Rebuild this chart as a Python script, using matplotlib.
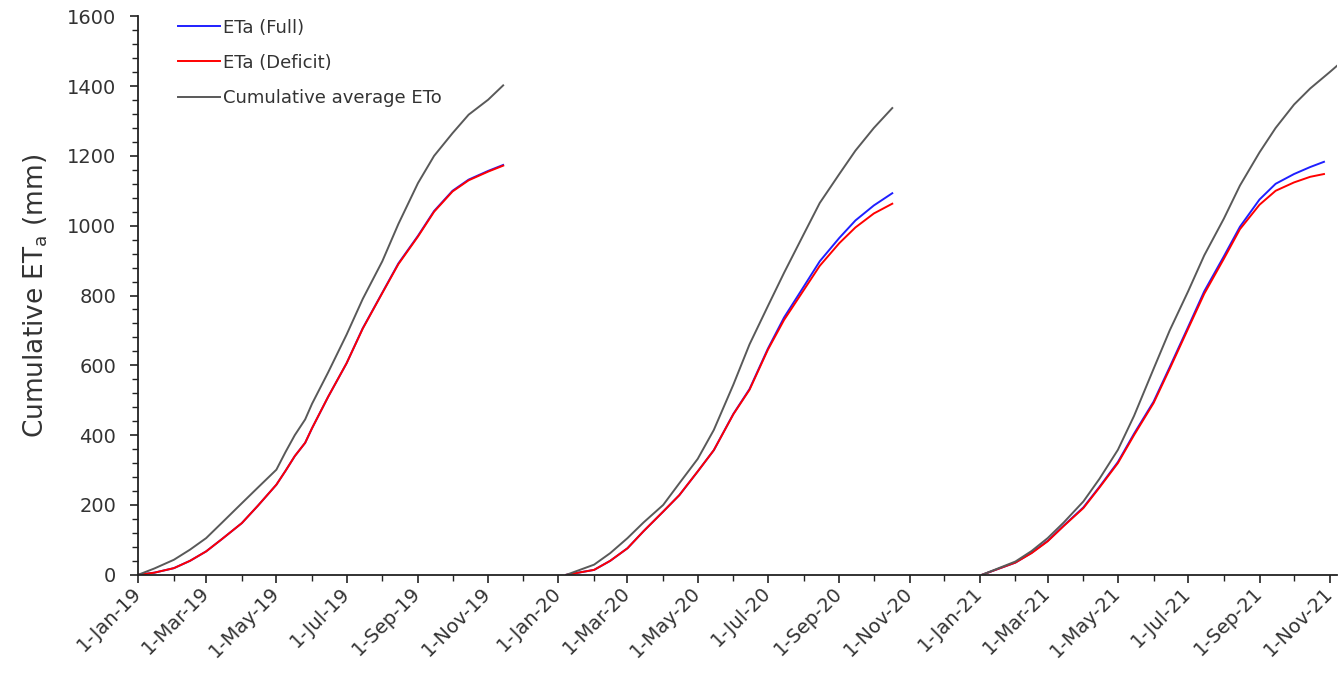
import matplotlib
matplotlib.use("Agg")
import matplotlib.pyplot as plt
import matplotlib.dates as mdates
from matplotlib.ticker import MultipleLocator, FuncFormatter
import pandas as pd

# ===============================
# Data (cumulative mm)
# ===============================
# 2019 season
dates_2019 = ["2019-01-01", "2019-01-15", "2019-02-01", "2019-02-15", "2019-03-01",
              "2019-03-15", "2019-04-01", "2019-04-15", "2019-05-01", "2019-05-09",
              "2019-05-17", "2019-05-26", "2019-06-01", "2019-06-15", "2019-07-01",
              "2019-07-15", "2019-08-01", "2019-08-15", "2019-09-01", "2019-09-15",
              "2019-10-01", "2019-10-15", "2019-11-01", "2019-11-14"]
eto_2019 = [0, 18, 43, 72, 105, 150, 205, 250, 301, 352, 400, 445, 490, 580, 688,
            790, 898, 1005, 1122, 1200, 1265, 1318, 1361, 1402]
deficit_2019 = [0, 6, 19, 40, 67, 103, 148, 198, 258, 298, 340, 378, 420, 510, 606,
                705, 807, 890, 969, 1040, 1098, 1130, 1155, 1172]
full_2019 = [0, 6, 19, 40, 67, 103, 148, 198, 258, 298, 340, 378, 420, 510, 606,
             706, 808, 892, 971, 1042, 1100, 1132, 1157, 1174]

# 2020 season
dates_2020 = ["2020-01-08", "2020-02-01", "2020-02-15", "2020-03-01", "2020-03-15",
              "2020-04-01", "2020-04-15", "2020-05-01", "2020-05-15", "2020-06-01",
              "2020-06-15", "2020-07-01", "2020-07-15", "2020-08-01", "2020-08-15",
              "2020-09-01", "2020-09-15", "2020-10-01", "2020-10-17"]
eto_2020 = [0, 29, 62, 105, 150, 200, 262, 332, 415, 545, 660, 770, 865, 975, 1065,
            1148, 1215, 1280, 1337]
deficit_2020 = [0, 14, 40, 76, 125, 181, 228, 296, 357, 460, 530, 645, 730, 815, 885,
                950, 995, 1035, 1063]
full_2020 = [0, 14, 40, 76, 125, 181, 228, 296, 357, 461, 532, 648, 737, 825, 898,
             965, 1015, 1058, 1093]

# 2021 season
dates_eto_2021 = ["2021-01-03", "2021-02-01", "2021-02-15", "2021-03-01", "2021-03-15",
                  "2021-04-01", "2021-04-15", "2021-05-01", "2021-05-15", "2021-06-01",
                  "2021-06-15", "2021-07-01", "2021-07-15", "2021-08-01", "2021-08-15",
                  "2021-09-01", "2021-09-15", "2021-10-01", "2021-10-15", "2021-11-01",
                  "2021-11-08"]
eto_2021 = [0, 38, 68, 105, 150, 210, 275, 358, 455, 590, 700, 812, 915, 1020, 1115,
            1210, 1280, 1347, 1393, 1440, 1460]
dates_eta_2021 = ["2021-01-03", "2021-02-01", "2021-02-15", "2021-03-01", "2021-03-15",
                  "2021-04-01", "2021-04-15", "2021-05-01", "2021-05-15", "2021-06-01",
                  "2021-06-15", "2021-07-01", "2021-07-15", "2021-08-01", "2021-08-15",
                  "2021-09-01", "2021-09-15", "2021-10-01", "2021-10-15", "2021-10-27"]
deficit_2021 = [0, 35, 62, 96, 140, 191, 250, 320, 400, 492, 590, 705, 805, 905, 990,
                1060, 1100, 1124, 1140, 1148]
full_2021 = [0, 35, 63, 97, 141, 193, 252, 323, 404, 496, 595, 710, 812, 912, 997,
             1075, 1120, 1148, 1168, 1183]

seasons = [
    (dates_2019, dates_2019, eto_2019, full_2019, deficit_2019),
    (dates_2020, dates_2020, eto_2020, full_2020, deficit_2020),
    (dates_eto_2021, dates_eta_2021, eto_2021, full_2021, deficit_2021),
]

# ===============================
# Plot
# ===============================
fig = plt.figure(figsize=(13.42, 6.77), dpi=100)
ax = fig.add_axes([0.103, 0.151, 0.893, 0.825])

for i, (d_eto, d_eta, eto, full, deficit) in enumerate(seasons):
    d_eto = pd.to_datetime(d_eto)
    d_eta = pd.to_datetime(d_eta)
    ax.plot(d_eta, full, color="#1f1fff", lw=1.4,
            label="ETa (Full)" if i == 0 else None)
    ax.plot(d_eta, deficit, color="#ff0000", lw=1.4,
            label="ETa (Deficit)" if i == 0 else None)
    ax.plot(d_eto, eto, color="#595959", lw=1.4,
            label="Cumulative average ETo" if i == 0 else None)

ax.set_xlim(pd.Timestamp("2019-01-01"), pd.Timestamp("2021-11-07"))
ax.set_ylim(0, 1600)

ax.yaxis.set_major_locator(MultipleLocator(200))
ax.yaxis.set_minor_locator(MultipleLocator(40))
ax.xaxis.set_major_locator(mdates.MonthLocator(bymonth=[1, 3, 5, 7, 9, 11]))
ax.xaxis.set_minor_locator(mdates.MonthLocator())
ax.xaxis.set_major_formatter(FuncFormatter(
    lambda v, pos: (lambda d: f"{d.day}-{d.strftime('%b-%y')}")(mdates.num2date(v))))

for s in ["top", "right"]:
    ax.spines[s].set_visible(False)
for s in ["left", "bottom"]:
    ax.spines[s].set_linewidth(1.3)
    ax.spines[s].set_color("#222222")

ax.tick_params(axis="both", which="major", direction="out", length=6, width=1.2,
               colors="#222222", labelsize=14, labelcolor="#333333")
ax.tick_params(axis="y", which="major", pad=10)
ax.tick_params(axis="x", which="major", pad=5)
ax.tick_params(axis="both", which="minor", direction="out", length=4, width=1.0,
               colors="#222222")
plt.setp(ax.get_xticklabels(), rotation=45, ha="right", va="center",
         rotation_mode="anchor")

ax.set_ylabel("Cumulative ET$_\\mathregular{a}$ (mm)", fontsize=19, color="#333333",
              labelpad=12)

ax.legend(loc="upper left", bbox_to_anchor=(0.02, 1.025), frameon=False, fontsize=13,
          handlelength=2.3, handletextpad=0.15, labelspacing=0.95,
          labelcolor="#333333")

fig.savefig("out.png", dpi=100)
